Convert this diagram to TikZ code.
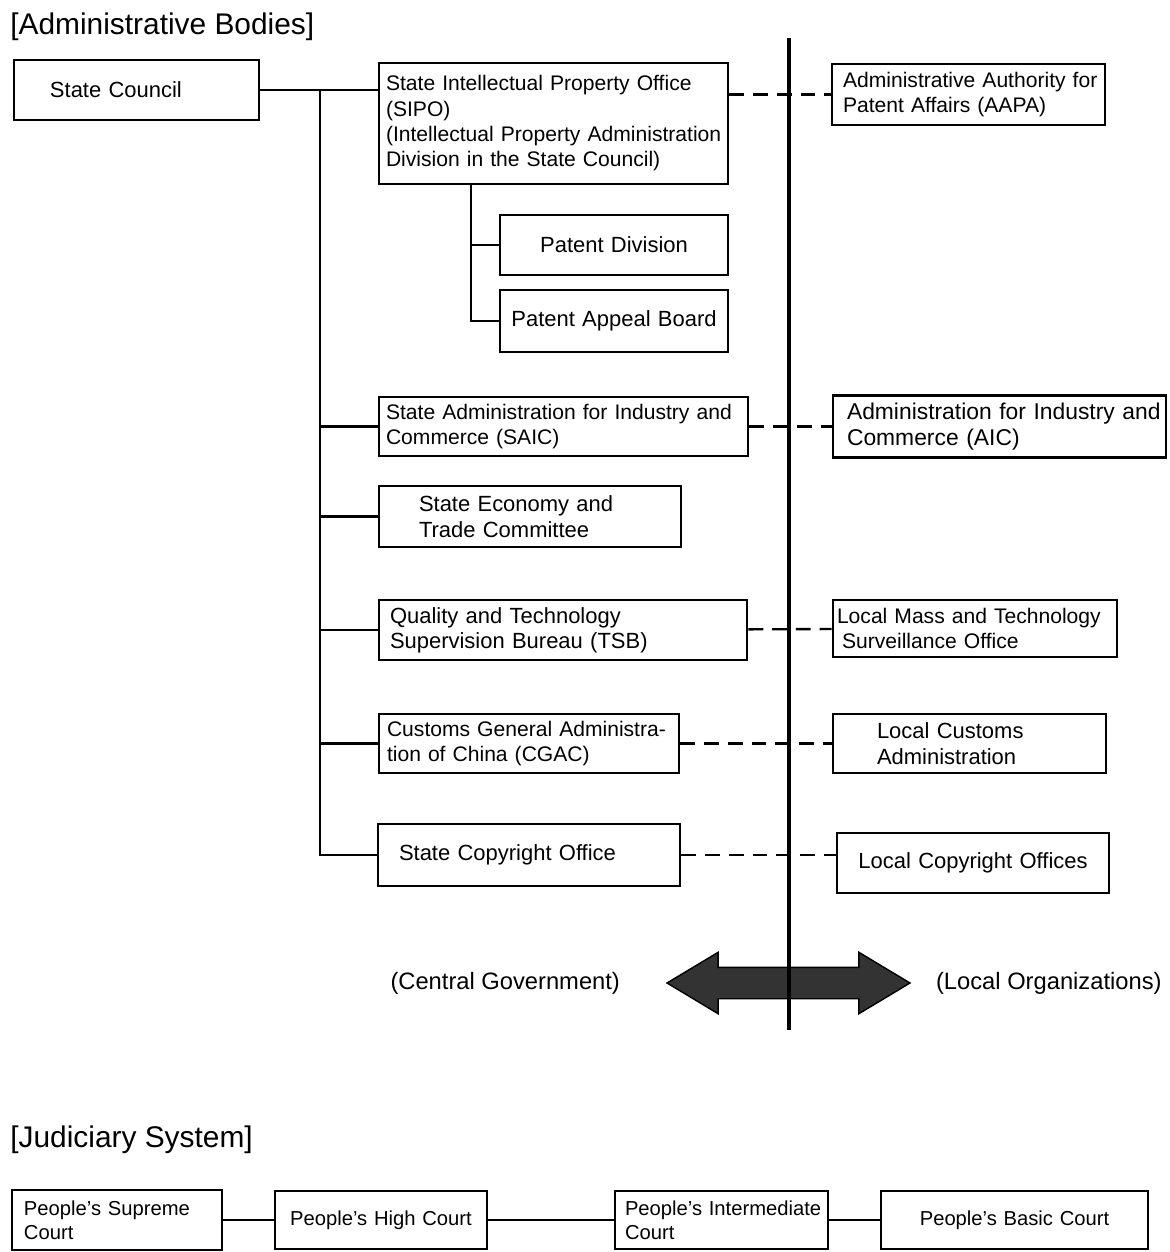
\documentclass[tikz,border=0pt]{standalone}
\usepackage{fontspec}
\setmainfont{Liberation Sans}
\usepackage{tikz}
\usetikzlibrary{positioning, shapes.arrows}
\tikzset{node distance=2cm, % centre to centre distance for the 'of' placements
box/.style={ % every organisation box
draw, line width=1.5pt,
align=left, inner xsep=0.05cm, inner ysep=0pt,
minimum height=1.2cm, font=\fontsize{12.5}{14.4}\selectfont},
textindent/.style={execute at begin node={\leftskip=#1\relax}}, % left margin of the text
smalltext/.style={font=\fontsize{12}{14.4}\selectfont},
largetext/.style={font=\fontsize{13}{14.4}\selectfont},
courttext/.style={font=\fontsize{11.5}{13.8}\selectfont},
link/.style={line width=1.35pt}, % solid connector
dashlink/.style={line width=1.35pt, dash pattern=on 8.5pt off 5pt}, % central to local
divider/.style={line width=2.6pt},
title/.style={font=\fontsize{17}{20}\selectfont, inner sep=0pt}}

\begin{document}
\begin{tikzpicture}
    \useasboundingbox (0,0) rectangle (23.38,-25.04);

    \node[title, anchor=west] (admin) at (0.20,-0.54) {[Administrative Bodies]};

    \node[box, text width=4.80cm, textindent=0.67cm] (sc) at (2.73,-1.80) {State Council};
    \node[box, smalltext, right of=sc, xshift=6.34cm, yshift=-0.67cm, text width=6.88cm, minimum height=2.42cm, textindent=0.09cm] (sipo) {State Intellectual Property Office\\(SIPO)\\(Intellectual Property Administration\\Division in the State Council)};
    \node[box, smalltext, right of=sipo, xshift=6.30cm, yshift=0.58cm, text width=5.36cm, minimum height=1.22cm, textindent=0.17cm] (aapa) {Administrative Authority for\\Patent Affairs (AAPA)};
    \node[box, below of=sipo, xshift=1.21cm, yshift=-0.43cm, text width=4.46cm, align=center] (pd) {Patent Division};
    \node[box, below of=pd, yshift=0.48cm, text width=4.46cm, minimum height=1.24cm, align=center] (pab) {Patent Appeal Board};
    \node[box, smalltext, below of=pab, xshift=-1.01cm, yshift=-0.11cm, text width=7.28cm, minimum height=1.18cm, textindent=0.09cm] (saic) {State Administration for Industry and\\Commerce (SAIC)};
    \node[box, largetext, right of=saic, xshift=6.72cm, text width=6.56cm, minimum height=1.24cm, textindent=0.23cm] (aic) {Administration for Industry and\\Commerce (AIC)};
    \node[box, below of=saic, xshift=-0.67cm, yshift=0.20cm, text width=5.94cm, minimum height=1.22cm, textindent=0.75cm] (setc) {State Economy and\\Trade Committee};
    \node[box, below of=setc, xshift=0.66cm, yshift=-0.27cm, text width=7.26cm, textindent=0.17cm] (tsb) {Quality and Technology\\Supervision Bureau (TSB)};
    \node[box, smalltext, right of=tsb, xshift=6.24cm, yshift=0.03cm, text width=5.58cm, minimum height=1.14cm, textindent=0.03cm] (lmts) {Local Mass and Technology\\\hspace*{0.1cm}Surveillance Office};
    \node[box, smalltext, below of=tsb, xshift=-0.68cm, yshift=-0.27cm, text width=5.90cm, minimum height=1.18cm, textindent=0.11cm] (cgac) {Customs General Administra-\\tion of China (CGAC)};
    \node[box, right of=cgac, xshift=6.81cm, text width=5.36cm, minimum height=1.18cm, textindent=0.83cm] (lca) {Local Customs\\Administration};
    \node[box, below of=cgac, yshift=-0.23cm, text width=5.94cm, minimum height=1.24cm, textindent=0.37cm] (sco) {State Copyright Office};
    \node[box, right of=sco, xshift=6.88cm, yshift=-0.16cm, text width=5.34cm, align=center] (lco) {Local Copyright Offices};

    % links from the State Council
    \coordinate (trunk) at (6.40,-1.80);
    \coordinate (subtrunk) at (9.42,-3.68);
    \draw[link] (sc) -- (sc -| sipo.west);
    \draw[link] (trunk) |- (sco);
    \draw[link] (trunk |- saic) -- (saic);
    \draw[link] (trunk |- setc) -- (setc);
    \draw[link] (trunk |- tsb) -- (tsb);
    \draw[link] (trunk |- cgac) -- (cgac);
    \draw[link] (subtrunk) |- (pab);
    \draw[link] (subtrunk |- pd) -- (pd);

    \draw[dashlink] (sipo.east |- aapa) -- (aapa);
    \draw[dashlink] (saic) -- (aic);
    \draw[dashlink] (tsb) -- (lmts);
    \draw[dashlink] (cgac) -- (lca);
    \draw[dashlink] (sco) -- (sco -| lco.west);

    \node[double arrow, draw, fill=black!80, line width=0.8pt, minimum height=4.86cm, inner xsep=0pt, inner ysep=0.3cm, double arrow head extend=0.3cm, double arrow tip angle=62] (flow) at (15.77,-19.66) {};
    \node[left=0.79cm of flow, font=\fontsize{13.5}{16}\selectfont] (central) {(Central Government)};
    \node[right=0.37cm of flow, font=\fontsize{13.5}{16}\selectfont] (local) {(Local Organizations)};

    \coordinate (divtop) at (15.78,-0.76);
    \coordinate (divbot) at (15.78,-20.60);
    \draw[divider] (divtop) -- (divbot);

    \node[title, anchor=west] (judic) at (0.20,-22.80) {[Judiciary System]};

    \node[box, courttext, text width=4.10cm, textindent=0.19cm] (sup) at (2.34,-24.40) {People’s Supreme\\Court};
    \node[box, courttext, right of=sup, xshift=3.28cm, text width=4.14cm, minimum height=1.16cm, align=center] (high) {People’s High Court};
    \node[box, courttext, right of=high, xshift=4.81cm, text width=4.16cm, minimum height=1.16cm, textindent=0.15cm] (inter) {People’s Intermediate\\Court};
    \node[box, courttext, right of=inter, xshift=3.86cm, text width=5.24cm, minimum height=1.16cm, align=center] (basic) {People’s Basic Court};

    \draw[link] (sup) -- (high);
    \draw[link] (high) -- (inter);
    \draw[link] (inter) -- (basic);

\end{tikzpicture}
\end{document}
